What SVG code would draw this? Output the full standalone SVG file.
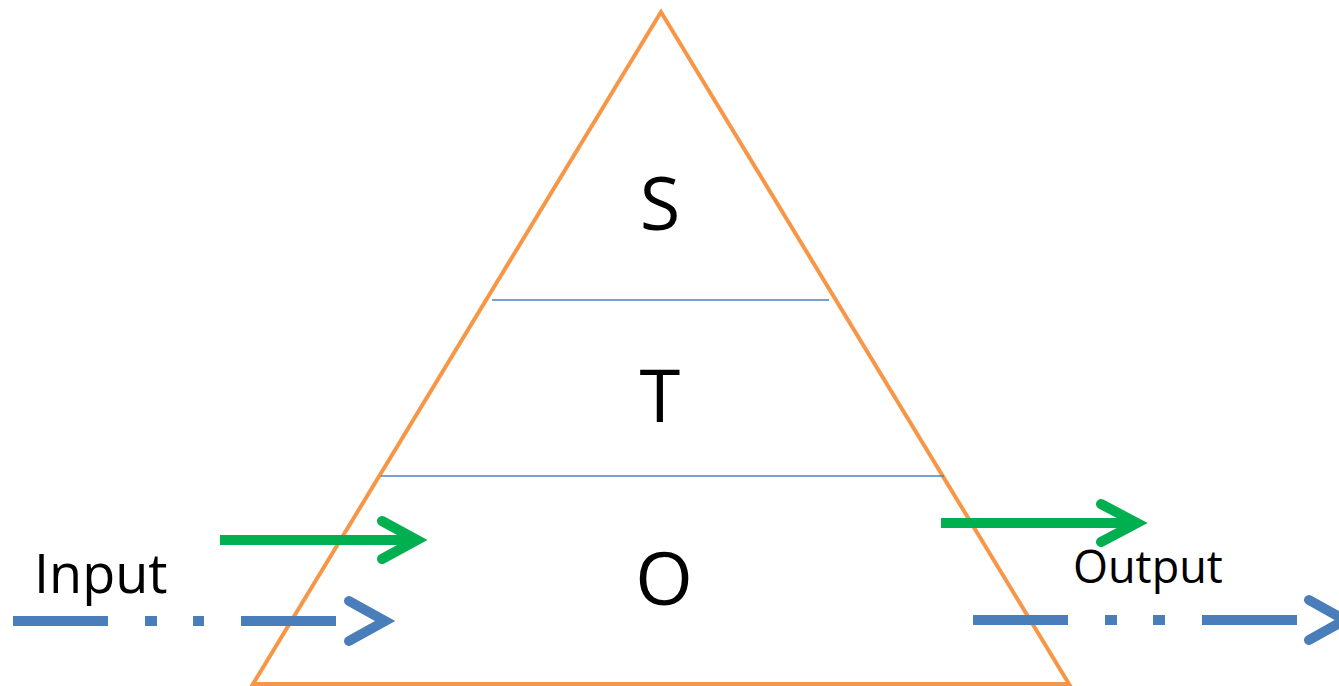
<svg xmlns="http://www.w3.org/2000/svg" width="1339" height="686" viewBox="0 0 1339 686">
<style>
.lbl{font-family:"Open Sans","Liberation Sans",sans-serif;fill:#000}
.big{font-size:74px;text-anchor:middle}
.blue{stroke:#4A7EBB;stroke-width:10;fill:none}
.green{stroke:#00B050;stroke-width:10;fill:none}
.head{stroke-linecap:round;stroke-linejoin:miter}
.sep{stroke:#4F81BD;stroke-width:1.5}
</style>
<rect width="1339" height="686" fill="#fff"/>
<g id="pyramid">
<polygon points="661,12 253,684 1069,684" fill="none" stroke="#F79646" stroke-width="4"/>
<line class="sep" x1="492" y1="300" x2="829" y2="300"/>
<line class="sep" x1="381" y1="476" x2="944" y2="476"/>
</g>
<g id="layer-S"><text class="lbl big" x="660" y="230">S</text></g>
<g id="layer-T"><text class="lbl big" x="660" y="422">T</text></g>
<g id="layer-O"><text class="lbl big" x="664" y="605">O</text></g>
<g id="input"><text class="lbl" x="34" y="593" font-size="54">Input</text></g>
<g id="output"><text class="lbl" x="1073" y="583" font-size="45">Output</text></g>
<g id="connectors">
<line class="green" x1="220" y1="540" x2="414" y2="540"/>
<polyline class="green head" points="382,521 417,540 382,559"/>
<line class="green" x1="941" y1="523" x2="1134" y2="523"/>
<polyline class="green head" points="1101,504 1137,523 1101,542"/>
<path class="blue" d="M13 621H108M145 621H157M193 621H204M241 621H336"/>
<polyline class="blue head" points="349,601 385,621 349,641"/>
<path class="blue" d="M973 620H1068M1105 620H1117M1153 620H1165M1202 620H1297"/>
<polyline class="blue head" points="1309,600 1345,620 1309,640"/>
</g>
</svg>
